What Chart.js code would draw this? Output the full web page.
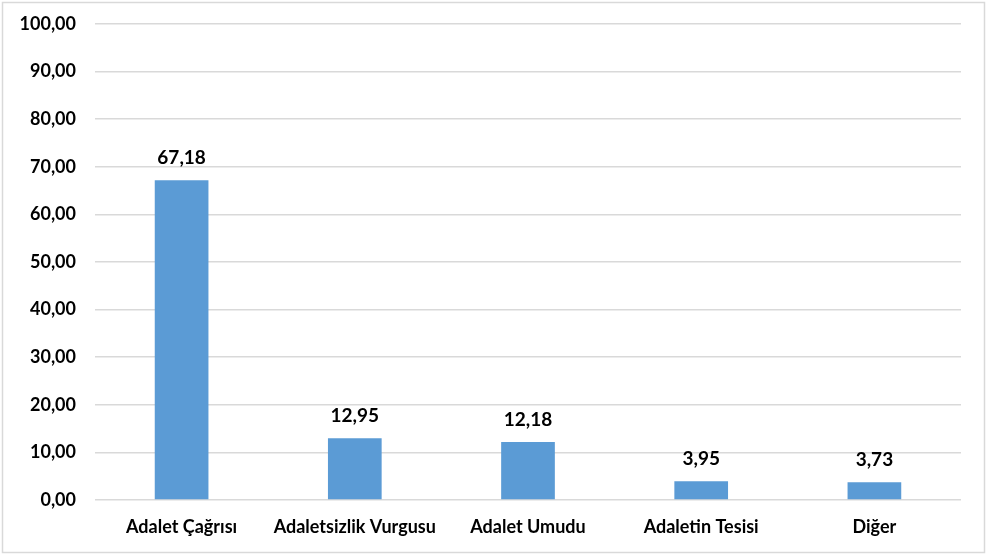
<!DOCTYPE html>
<html><head><meta charset="utf-8">
<script src="https://cdn.jsdelivr.net/npm/chart.js@4/dist/chart.umd.min.js"></script>
<style>html,body{margin:0;padding:0;background:#fff}#wrap{width:987px;height:556px}</style>
</head><body><div id="wrap"><canvas id="c" width="987" height="556"></canvas></div>
<script>
const categories = ["Adalet Çağrısı", "Adaletsizlik Vurgusu", "Adalet Umudu", "Adaletin Tesisi", "Diğer"];
const values = [67.18, 12.95, 12.18, 3.95, 3.73];
const yTicks = [0, 10, 20, 30, 40, 50, 60, 70, 80, 90, 100];
const fmt = v => v.toFixed(2).replace('.', ',');
const FONT = "Lato, 'Liberation Sans', sans-serif";

const frame = {
  id: 'frame',
  afterDraw(chart) {
    const ctx = chart.ctx;
    ctx.save();
    ctx.strokeStyle = '#D9D9D9';
    ctx.lineWidth = 1.5;
    ctx.strokeRect(2.5, 2.5, 982, 550);
    const meta = chart.getDatasetMeta(0);
    ctx.fillStyle = '#000';
    ctx.font = "bold 19px " + FONT;
    ctx.textAlign = 'center';
    ctx.textBaseline = 'middle';
    meta.data.forEach((el, i) => {
      ctx.fillText(fmt(values[i]), el.x, el.y - 22);
    });
    ctx.restore();
  }
};

new Chart(document.getElementById('c'), {
  type: 'bar',
  data: { labels: categories, datasets: [{ data: values, backgroundColor: '#5B9BD5', barPercentage: 0.31, categoryPercentage: 1 }] },
  options: {
    responsive: false, animation: false,
    layout: { padding: { top: 24, right: 26, bottom: 0, left: 0 } },
    plugins: { legend: { display: false }, tooltip: { enabled: false } },
    scales: {
      x: {
        grid: { display: false, drawTicks: false },
        border: { display: false },
        ticks: { color: '#000', font: { family: FONT, size: 18, weight: 'bold' }, padding: 16, maxRotation: 0 },
        afterFit(s) { s.height = 56; s.paddingLeft = 0; s.paddingRight = 0; }
      },
      y: {
        min: 0, max: 100,
        afterBuildTicks(s) { s.ticks = yTicks.map(v => ({ value: v })); },
        grid: { color: '#D9D9D9', lineWidth: 1.5, drawTicks: false },
        border: { display: false },
        ticks: { color: '#000', font: { family: FONT, size: 18, weight: 'bold' }, padding: 19, callback: v => fmt(v) },
        afterFit(s) { s.width = 95; s.paddingTop = 0; s.paddingBottom = 0; }
      }
    }
  },
  plugins: [frame]
});
</script></body></html>
